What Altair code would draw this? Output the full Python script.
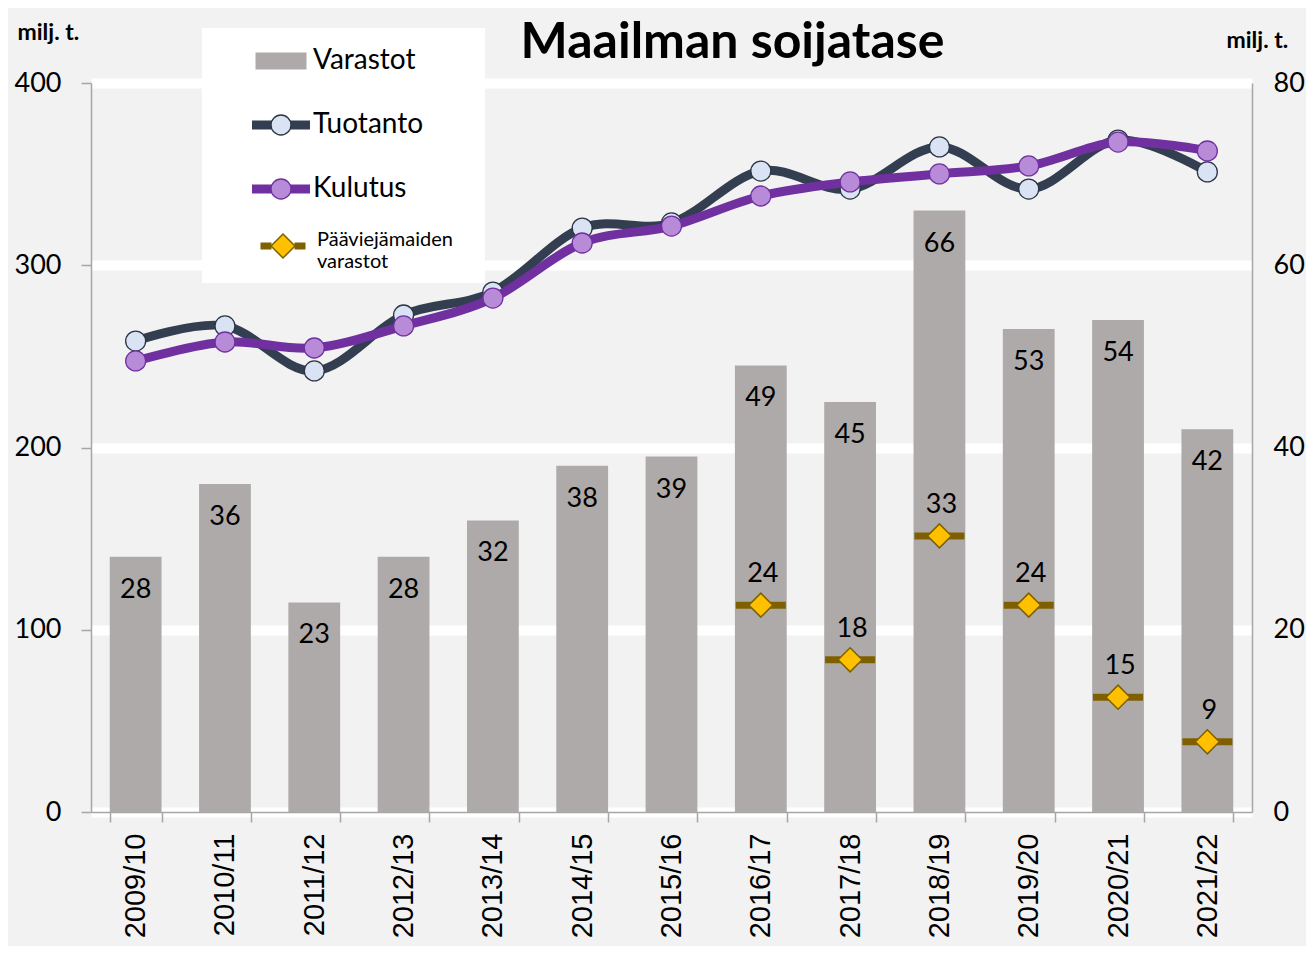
import altair as alt
import pandas as pd

# ---------------- data ----------------
years = ["2009/10", "2010/11", "2011/12", "2012/13", "2013/14", "2014/15", "2015/16",
         "2016/17", "2017/18", "2018/19", "2019/20", "2020/21", "2021/22"]
varastot = [28, 36, 23, 28, 32, 38, 39, 49, 45, 66, 53, 54, 42]
tuotanto = [258.4, 266.7, 242.0, 272.7, 285.3, 320.4, 323.2, 351.7, 341.8, 364.9, 341.8, 368.7, 351.2]
kulutus = [247.5, 257.9, 254.6, 266.7, 282.0, 312.2, 321.5, 338.0, 345.7, 350.1, 354.5, 367.6, 362.7]
paa_years = ["2016/17", "2017/18", "2018/19", "2019/20", "2020/21", "2021/22"]
paa_values = [22.7, 16.7, 30.3, 22.7, 12.6, 7.7]
paa_labels = ["24", "18", "33", "24", "15", "9"]

FONT = "Lato"
AXC = "#a6a6a6"

bars_df = pd.DataFrame({"vuosi": years, "arvo": varastot,
                        "sarja": ["Varastot"] * len(years),
                        "teksti": [str(v) for v in varastot]})
t_df = pd.DataFrame({"vuosi": years, "arvo": tuotanto, "sarja": ["Tuotanto"] * len(years),
                     "piste": ["Tuotanto (pisteet)"] * len(years)})
k_df = pd.DataFrame({"vuosi": years, "arvo": kulutus, "sarja": ["Kulutus"] * len(years),
                     "piste": ["Kulutus (pisteet)"] * len(years)})
paa_df = pd.DataFrame({"vuosi": paa_years, "arvo": paa_values, "teksti": paa_labels,
                       "sarja": ["Pääviejämaiden varastot"] * len(paa_years),
                       "piste": ["Pääviejämaiden varastot (merkki)"] * len(paa_years)})


def leg(x, y, **kw):
    base = dict(orient="none", legendX=x, legendY=y, title=None, direction="vertical",
                padding=0, rowPadding=0, clipHeight=64, labelFont=FONT, labelFontSize=28,
                labelColor="black", labelLimit=400, zindex=1)
    base.update(kw)
    return alt.Legend(**base)


# ---------------- scales / axes ----------------
x_scale = alt.Scale(domain=years, paddingInner=0.42, paddingOuter=0.21)
x_axis = alt.Axis(title=None, labelAngle=-90, labelFont="Liberation Sans", labelFontSize=29,
                  labelColor="black", labelPadding=11, tickBand="extent", tickSize=10,
                  tickColor=AXC, tickWidth=1.5, domainColor=AXC, domainWidth=1.5, grid=False)
X = alt.X("vuosi:N", scale=x_scale, axis=x_axis, sort=years)

yr_axis = alt.Axis(orient="right", values=[0, 20, 40, 60, 80], grid=False, tickSize=0,
                   labelPadding=21, labelFont=FONT, labelFontSize=27, labelColor="black",
                   domainColor=AXC, domainWidth=1.5, title="milj. t.", titleAngle=0,
                   titleX=-26, titleY=-43, titleAlign="left", titleBaseline="middle",
                   titleFont=FONT, titleFontSize=23, titleFontWeight="bold", titleColor="black")
YR = alt.Y("arvo:Q", scale=alt.Scale(domain=[0, 80], nice=False), axis=yr_axis)

yl_axis = alt.Axis(orient="left", values=[0, 100, 200, 300, 400], grid=True, gridColor="white",
                   gridWidth=10, tickSize=10, tickColor=AXC, tickWidth=1.5, domainColor=AXC,
                   domainWidth=1.5, labelPadding=20, labelFont=FONT, labelFontSize=27,
                   labelColor="black", title="milj. t.", titleAngle=0, titleX=-74, titleY=-51,
                   titleAlign="left", titleBaseline="middle", titleFont=FONT, titleFontSize=23,
                   titleFontWeight="bold", titleColor="black")
YL = alt.Y("arvo:Q", scale=alt.Scale(domain=[0, 400], nice=False), axis=yl_axis)

# ---------------- legend background ----------------
box = alt.Chart(pd.DataFrame({"k": [0]})).mark_rect(color="white").encode(
    x=alt.value(111), x2=alt.value(394), y=alt.value(-55), y2=alt.value(200))

# ---------------- right-axis layers ----------------
bars = alt.Chart(bars_df).mark_bar(opacity=1).encode(
    x=X, y=YR,
    color=alt.Color("sarja:N", scale=alt.Scale(domain=["Varastot"], range=["#aeaaaa"]),
                    legend=leg(159, -54, symbolType="M-2.55,-0.85H2.55V0.85H-2.55Z",
                               symbolSize=400, symbolStrokeWidth=0, symbolOffset=17,
                               labelOffset=18)))
bar_text = alt.Chart(bars_df).mark_text(dy=33, baseline="middle", font=FONT, fontSize=27,
                                        color="black").encode(x=X, y=YR, text="teksti:N")

paa_dom = ["Pääviejämaiden varastot"]
paa_mdom = ["Pääviejämaiden varastot (merkki)"]
ticks = alt.Chart(paa_df).mark_tick(thickness=7, size=50, opacity=1).encode(
    x=X, y=YR,
    color=alt.Color("sarja:N", scale=alt.Scale(domain=paa_dom, range=["#7f6000"]),
                    legend=leg(164, 131,
                               symbolType="M-2.25,-0.35H-1.15V0.35H-2.25ZM1.15,-0.35H2.25V0.35H1.15Z",
                               symbolSize=400, symbolStrokeWidth=0, symbolOffset=18,
                               labelFontSize=20, labelOffset=24, labelBaseline="alphabetic",
                               labelExpr="split(datum.label, ' ')")))
dleg = leg(179, 131, symbolType="diamond", symbolSize=576, symbolStrokeWidth=1.5,
           labelFontSize=20, labelExpr="''")
diamonds = alt.Chart(paa_df).mark_point(shape="diamond", filled=True, size=576, strokeWidth=1.5,
                                        opacity=1).encode(
    x=X, y=YR,
    fill=alt.Fill("piste:N", scale=alt.Scale(domain=paa_mdom, range=["#ffc000"]), legend=dleg),
    stroke=alt.Stroke("piste:N", scale=alt.Scale(domain=paa_mdom, range=["#7f6000"]), legend=dleg))
paa_text = alt.Chart(paa_df).mark_text(dy=-31, dx=2, baseline="middle", font=FONT, fontSize=27,
                                       color="black").encode(x=X, y=YR, text="teksti:N")

right = alt.layer(bars, bar_text, ticks, diamonds, paa_text).resolve_scale(
    color="independent").resolve_legend(color="independent")

# ---------------- left-axis layers ----------------
dom = ["Tuotanto", "Kulutus"]
pdom = ["Tuotanto (pisteet)", "Kulutus (pisteet)"]
lcol = alt.Color("sarja:N", scale=alt.Scale(domain=dom, range=["#333f50", "#7030a0"]),
                 legend=leg(154, 10, symbolType="M-2.9,0H-0.9M0.9,0H2.9", symbolSize=400,
                            symbolStrokeWidth=9, symbolOffset=21.5, labelOffset=17.5))
pleg = leg(176, 10, symbolType="circle", symbolSize=400, symbolStrokeWidth=1.3, labelExpr="''")
pfill = alt.Fill("piste:N", scale=alt.Scale(domain=pdom, range=["#dae3f3", "#b88bd8"]), legend=pleg)
pstroke = alt.Stroke("piste:N", scale=alt.Scale(domain=pdom, range=["#2b3544", "#7030a0"]), legend=pleg)


def line_layer(df):
    return alt.Chart(df).mark_line(strokeWidth=9, interpolate="cardinal").encode(
        x=X, y=YL, color=lcol)


def point_layer(df):
    return alt.Chart(df).mark_point(filled=True, size=400, strokeWidth=1.3, opacity=1).encode(
        x=X, y=YL, fill=pfill, stroke=pstroke)


left = alt.layer(line_layer(t_df), point_layer(t_df), line_layer(k_df), point_layer(k_df))

chart = alt.layer(box, right, left).resolve_scale(
    y="independent", color="independent", fill="independent", stroke="independent"
).resolve_legend(
    color="independent", fill="independent", stroke="independent"
).properties(
    width=1161, height=729,
    padding={"left": 83, "top": 75, "right": 54, "bottom": 134},
    autosize=alt.AutoSizeParams(type="none"),
    background="#f2f2f2",
    title=alt.TitleParams("Maailman soijatase", font=FONT, fontSize=50, fontWeight="bold",
                          color="black", anchor="middle", frame="group", dx=61, dy=87,
                          offset=0, baseline="alphabetic"),
).configure_view(stroke=None, fill="#f2f2f2")

chart.save("out.html", embed_options={"renderer": "svg", "actions": False})
